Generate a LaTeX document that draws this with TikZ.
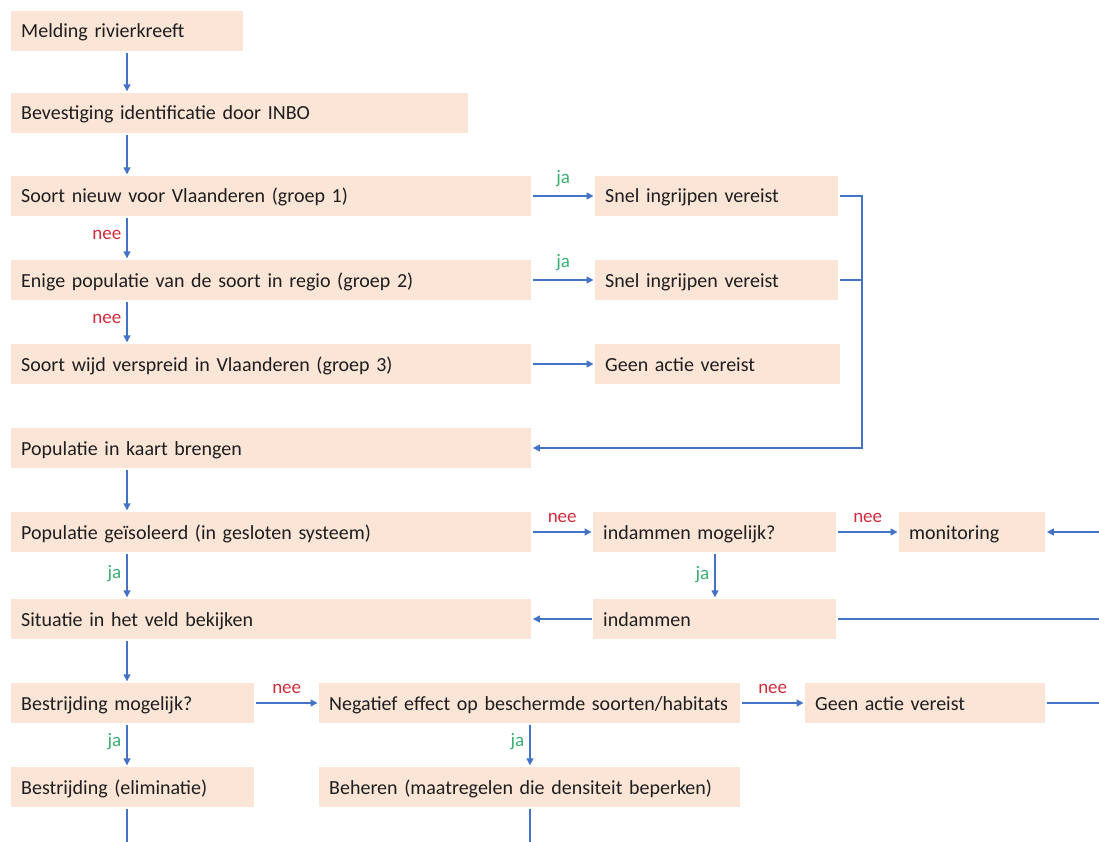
\documentclass[tikz,border=0pt]{standalone}
\usepackage{fontspec}
\setmainfont{Carlito}[WordSpace=0.85]
\usetikzlibrary{arrows.meta}
\definecolor{boxfill}{HTML}{FBE5D6}
\definecolor{arrblue}{HTML}{4472C4}
\definecolor{jagreen}{HTML}{3AAE72}
\definecolor{neered}{HTML}{D02B3A}
\definecolor{txt}{HTML}{1E1E1E}
\begin{document}
\begin{tikzpicture}[x=1pt,y=-1pt,
  box/.style={fill=boxfill, anchor=west, minimum height=40pt, inner xsep=10pt, inner ysep=0pt,
    align=left, text=txt, font=\fontsize{20}{23}\selectfont, text height=16pt, text depth=2pt},
  line/.style={draw=arrblue, line width=1.4pt},
  arr/.style={line, -{Triangle[length=7pt,width=7pt]}, shorten >=1.5pt, shorten <=1.5pt},
  ja/.style={text=jagreen, font=\fontsize{19}{22}\selectfont, inner sep=1pt},
  nee/.style={text=neered, font=\fontsize{19}{22}\selectfont, inner sep=1pt}]
\useasboundingbox (0,0) rectangle (1099,842);
\coordinate (c1) at (127,0);
\coordinate (c2) at (715,0);
\coordinate (c3) at (530,0);
\coordinate (brx) at (862,0);
\coordinate (redge) at (1100,0);
\coordinate (bedge) at (0,843);

\node[box, text width=212pt] (A) at (11,31) {Melding rivierkreeft};
\node[box, text width=437pt] (B) at (11,113) {Bevestiging identificatie door INBO};
\node[box, text width=500pt] (C) at (11,196) {Soort nieuw voor Vlaanderen (groep 1)};
\node[box, text width=223pt] (D1) at (595,196) {Snel ingrijpen vereist};
\node[box, text width=500pt] (E) at (11,280) {Enige populatie van de soort in regio (groep 2)};
\node[box, text width=223pt] (D2) at (595,280) {Snel ingrijpen vereist};
\node[box, text width=500pt] (F) at (11,364) {Soort wijd verspreid in Vlaanderen (groep 3)};
\node[box, text width=225pt] (G) at (595,364) {Geen actie vereist};
\node[box, text width=500pt] (H) at (11,448) {Populatie in kaart brengen};
\node[box, text width=500pt] (I) at (11,532) {Populatie geïsoleerd (in gesloten systeem)};
\node[box, text width=223pt] (J) at (593,532) {indammen mogelijk?};
\node[box, text width=126pt] (K) at (899,532) {monitoring};
\node[box, text width=500pt] (L) at (11,619) {Situatie in het veld bekijken};
\node[box, text width=223pt] (M) at (593,619) {indammen};
\node[box, text width=223pt] (N) at (11,703) {Bestrijding mogelijk?};
\node[box, text width=401pt] (O) at (319,703) {Negatief effect op beschermde soorten/habitats};
\node[box, text width=220pt] (P) at (805,703) {Geen actie vereist};
\node[box, text width=223pt] (Q) at (11,787) {Bestrijding (eliminatie)};
\node[box, text width=401pt] (R) at (319,787) {Beheren (maatregelen die densiteit beperken)};

% left column
\draw[arr] (A.south -| c1) -- (B.north -| c1);
\draw[arr] (B.south -| c1) -- (C.north -| c1);
\draw[arr] (C.south -| c1) -- node[pos=0.42, left=4pt, nee] {nee} (E.north -| c1);
\draw[arr] (E.south -| c1) -- node[pos=0.42, left=4pt, nee] {nee} (F.north -| c1);
\draw[arr] (H.south -| c1) -- (I.north -| c1);
\draw[arr] (I.south -| c1) -- node[pos=0.45, left=4pt, ja] {ja} (L.north -| c1);
\draw[arr] (L.south -| c1) -- (N.north -| c1);
\draw[arr] (N.south -| c1) -- node[pos=0.42, left=4pt, ja] {ja} (Q.north -| c1);
\draw[line, shorten <=1.5pt] (Q.south -| c1) -- (bedge -| c1);

% horizontals
\draw[arr] (C.east) -- node[midway, above=8pt, ja] {ja} (D1.west);
\draw[arr] (E.east) -- node[midway, above=8pt, ja] {ja} (D2.west);
\draw[arr] (F.east) -- (G.west);
\draw[arr] (I.east) -- node[midway, above=8pt, nee] {nee} (J.west);
\draw[arr] (J.east) -- node[midway, above=8pt, nee] {nee} (K.west);
\draw[arr] (redge |- K.east) -- (K.east);
\draw[arr] (J.south -| c2) -- node[pos=0.48, left=4pt, ja] {ja} (M.north -| c2);
\draw[arr] (M.west) -- (L.east);
\draw[line, shorten <=1.5pt] (M.east) -- (redge |- M.east);
\draw[arr] (N.east) -- node[midway, above=8pt, nee] {nee} (O.west);
\draw[arr] (O.east) -- node[midway, above=8pt, nee] {nee} (P.west);
\draw[line, shorten <=1.5pt] (P.east) -- (redge |- P.east);
\draw[arr] (O.south -| c3) -- node[pos=0.42, left=4pt, ja] {ja} (R.north -| c3);
\draw[line, shorten <=1.5pt] (R.south -| c3) -- (bedge -| c3);

% bracket
\draw[line, shorten <=1.5pt] (D2.east) -- (D2.east -| brx);
\draw[arr] (D1.east) -- (D1.east -| brx) |- (H.east);
\end{tikzpicture}
\end{document}
